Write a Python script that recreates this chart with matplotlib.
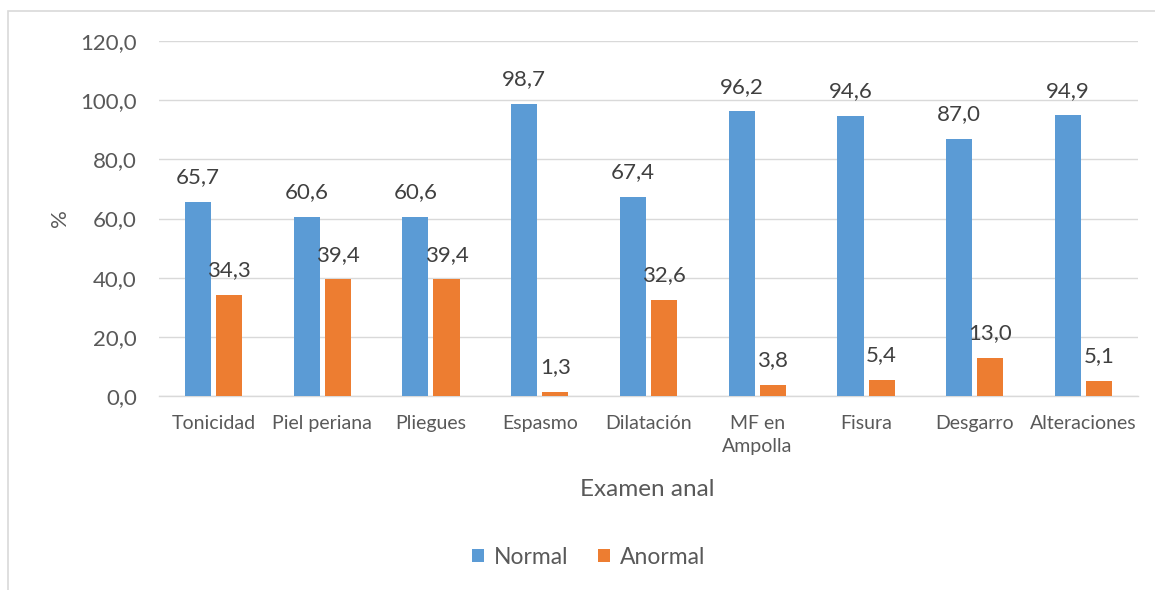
import matplotlib
matplotlib.use("Agg")
import matplotlib.pyplot as plt
import numpy as np
from matplotlib.patches import Rectangle

# ── Datos ────────────────────────────────────
categorias = ["Tonicidad", "Piel periana", "Pliegues", "Espasmo", "Dilatación",
              "MF en\nAmpolla", "Fisura", "Desgarro", "Alteraciones"]
normal  = [65.7, 60.6, 60.6, 98.7, 67.4, 96.2, 94.6, 87.0, 94.9]
anormal = [34.3, 39.4, 39.4, 1.3, 32.6, 3.8, 5.4, 13.0, 5.1]
yticks  = [0, 20, 40, 60, 80, 100, 120]

# ── Estilo ───────────────────────────────────
CLR_BLUE   = "#5b9bd5"
CLR_ORANGE = "#ed7d31"
CLR_GRID   = "#d9d9d9"
CLR_TICK   = "#595959"
CLR_LABEL  = "#404040"
FONT       = ["Lato", "DejaVu Sans"]

plt.rcParams["font.family"] = FONT


def coma(v):
    return f"{v:.1f}".replace(".", ",")


fig = plt.figure(figsize=(11.55, 5.9), dpi=100, facecolor="white")

# marco del gráfico (solo visibles borde izquierdo y superior)
fig.patches.append(Rectangle((8 / 1155, -0.1), 1.2, 1 - 11 / 590 + 0.1,
                             transform=fig.transFigure, fill=False,
                             edgecolor=CLR_GRID, lw=1.2))

ax = fig.add_axes([159 / 1155, 1 - 396 / 590, (1138 - 159) / 1155, (396 - 41) / 590])

x = np.arange(len(categorias))
w = 0.24
off = 0.143
b1 = ax.bar(x - off, normal, w, color=CLR_BLUE, label="Normal", zorder=3)
b2 = ax.bar(x + off, anormal, w, color=CLR_ORANGE, label="Anormal", zorder=3)

for bars, vals in ((b1, normal), (b2, anormal)):
    for r, v in zip(bars, vals):
        ax.annotate(coma(v), (r.get_x() + r.get_width() / 2, v),
                    xytext=(0, 10.5), textcoords="offset points",
                    ha="center", va="bottom", fontsize=16, color=CLR_LABEL,
                    zorder=4)

ax.set_xlim(-0.5, len(categorias) - 0.5)
ax.set_ylim(0, 120)
ax.set_yticks(yticks)
ax.set_yticklabels([coma(t) for t in yticks], fontsize=16, color=CLR_TICK)
ax.set_xticks(x)
ax.set_xticklabels(categorias, fontsize=14, color=CLR_TICK, linespacing=1.4)
ax.tick_params(axis="both", length=0)
ax.tick_params(axis="y", pad=16)
ax.tick_params(axis="x", pad=14)

ax.grid(axis="y", color=CLR_GRID, lw=1, zorder=0)
for s in ("top", "right", "left"):
    ax.spines[s].set_visible(False)
ax.spines["bottom"].set_color(CLR_GRID)
ax.spines["bottom"].set_linewidth(1)

fig.text(60 / 1155, 1 - 218 / 590, "%", rotation=90, ha="center", va="center",
         fontsize=16, color=CLR_TICK)
fig.text(647 / 1155, 1 - 490 / 590, "Examen anal", ha="center", va="center",
         fontsize=17.5, color=CLR_TICK)

fig.legend(handles=[b1, b2], loc="center", bbox_to_anchor=(589 / 1155, 1 - 557 / 590),
           ncol=2, frameon=False, fontsize=16.5, labelcolor=CLR_TICK,
           handlelength=0.5, handleheight=0.5, handletextpad=0.45,
           columnspacing=1.3)

fig.savefig("out.png", dpi=100, facecolor="white")
